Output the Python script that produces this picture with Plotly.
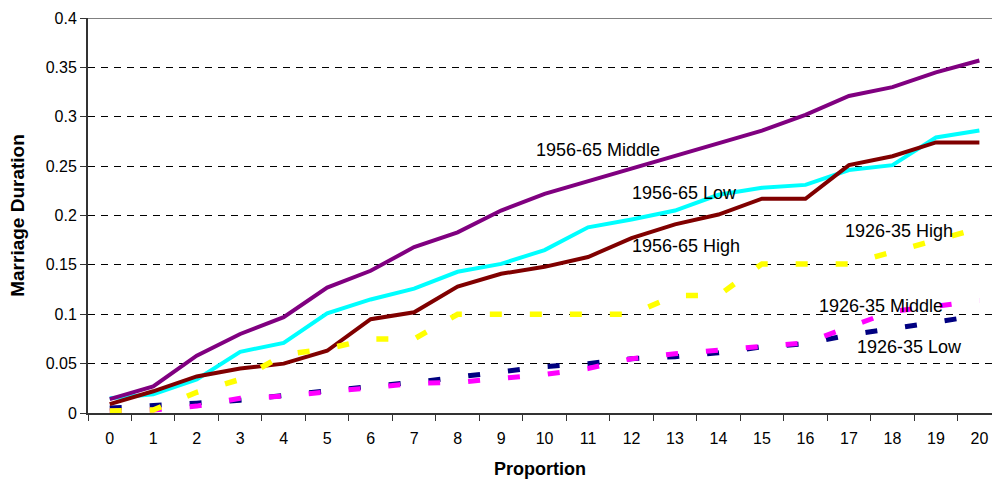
import plotly.graph_objects as go

# Proportion categories on the x axis
proportion = [str(i) for i in range(21)]

# Marriage duration by cohort and group
middle_1956 = [0.014, 0.027, 0.058, 0.080, 0.097, 0.127, 0.144, 0.168, 0.183, 0.205, 0.222,
               0.235, 0.247, 0.261, 0.274, 0.286, 0.302, 0.321, 0.330, 0.345, 0.357]
low_1956 = [0.015, 0.019, 0.034, 0.062, 0.071, 0.101, 0.115, 0.126, 0.143, 0.151, 0.165,
            0.188, 0.196, 0.205, 0.221, 0.228, 0.231, 0.246, 0.251, 0.279, 0.286]
high_1956 = [0.009, 0.022, 0.037, 0.045, 0.050, 0.063, 0.095, 0.102, 0.128, 0.141, 0.148,
             0.158, 0.177, 0.191, 0.201, 0.217, 0.217, 0.251, 0.260, 0.274, 0.274]
high_1926 = [0.002, 0.003, 0.021, 0.034, 0.059, 0.065, 0.075, 0.075, 0.100, 0.100, 0.100,
             0.100, 0.100, 0.119, 0.119, 0.151, 0.151, 0.151, 0.163, 0.175, 0.187]
middle_1926 = [0.002, 0.003, 0.007, 0.015, 0.017, 0.021, 0.026, 0.030, 0.031, 0.035, 0.039,
               0.045, 0.055, 0.060, 0.064, 0.068, 0.071, 0.087, 0.103, 0.108, 0.114]
low_1926 = [0.005, 0.007, 0.010, 0.013, 0.018, 0.023, 0.027, 0.031, 0.036, 0.041, 0.047,
            0.050, 0.055, 0.057, 0.061, 0.067, 0.070, 0.079, 0.085, 0.092, 0.099]

y_ticks = [0, 0.05, 0.1, 0.15, 0.2, 0.25, 0.3, 0.35, 0.4]
y_tick_text = ["0", "0.05", "0.1", "0.15", "0.2", "0.25", "0.3", "0.35", "0.4"]

FONT = "Arial, Liberation Sans, sans-serif"
DASH = "12px,28px"

series = [
    ("1926-35 Low", low_1926, "#000080", 5, DASH),
    ("1926-35 Middle", middle_1926, "#FF00FF", 5, DASH),
    ("1956-65 Low", low_1956, "#00FFFF", 4, "solid"),
    ("1956-65 Middle", middle_1956, "#800080", 4, "solid"),
    ("1956-65 High", high_1956, "#800000", 4, "solid"),
    ("1926-35 High", high_1926, "#FFFF00", 5.5, DASH),
]

fig = go.Figure()
for name, values, color, width, dash in series:
    fig.add_trace(go.Scatter(
        x=proportion, y=values, name=name, mode="lines",
        line=dict(color=color, width=width, dash=dash),
    ))

# In-plot series labels: (text, x index, y value)
labels = [
    ("1956-65 Middle", 9.75, 0.266),
    ("1956-65 Low", 11.96, 0.223),
    ("1956-65 High", 11.96, 0.169),
    ("1926-35 High", 16.87, 0.184),
    ("1926-35 Middle", 16.26, 0.108),
    ("1926-35 Low", 17.15, 0.067),
]
for text, xi, yv in labels:
    fig.add_annotation(x=xi, y=yv, xref="x", yref="y", text=text, showarrow=False,
                       xanchor="left", yanchor="middle",
                       font=dict(family=FONT, size=18, color="black"))

# Plot-area top border
fig.add_shape(type="line", xref="paper", yref="y", x0=0, x1=1, y0=0.4, y1=0.4,
              line=dict(color="#808080", width=2))

fig.update_layout(
    width=992, height=481,
    margin=dict(l=88, r=0, t=18, b=68),
    paper_bgcolor="white", plot_bgcolor="white",
    showlegend=False,
    font=dict(family=FONT, color="black"),
)
fig.update_xaxes(
    type="category", range=[-0.5, 20.29],
    showline=True, linecolor="#333333", linewidth=2,
    ticks="outside", tickson="boundaries", ticklen=6, tickcolor="#333333", tickwidth=1,
    ticklabelstandoff=10,
    showgrid=False, tickfont=dict(family=FONT, size=16, color="black"),
    title=dict(text="<b>Proportion</b>", font=dict(family=FONT, size=18, color="black"), standoff=16),
)
fig.update_yaxes(
    range=[0, 0.4], tickvals=y_ticks, ticktext=y_tick_text,
    showline=True, linecolor="#333333", linewidth=2,
    ticks="outside", ticklen=6, tickcolor="#333333", tickwidth=1,
    showgrid=True, gridcolor="black", gridwidth=1, griddash="7px,6px",
    zeroline=False, tickfont=dict(family=FONT, size=16, color="black"),
    title=dict(text="<b>Marriage Duration</b>", font=dict(family=FONT, size=19, color="black"), standoff=16),
)

fig.write_html("out.html")
